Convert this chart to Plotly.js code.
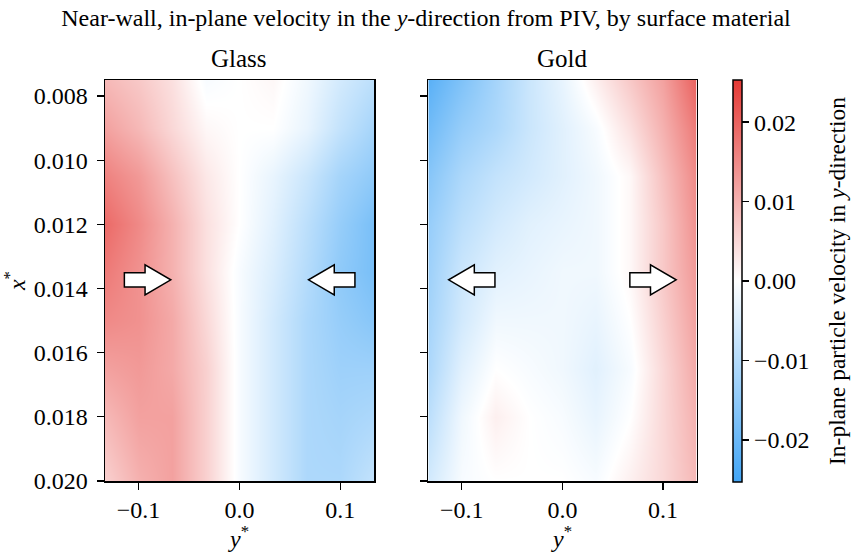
<!DOCTYPE html>
<html>
<head>
<meta charset="utf-8">
<script src="https://cdn.plot.ly/plotly-3.0.1.min.js"></script>
<style>html,body{margin:0;padding:0;background:#fff;}#chart{width:852px;height:552px;}</style>
</head>
<body>
<div id="chart"></div>
<script>
// ---- data ----
const yStar = [-0.133, -0.1, -0.067, -0.033, 0.0, 0.033, 0.067, 0.1, 0.133];
const xStar = [0.0075, 0.009, 0.0105, 0.012, 0.0135, 0.015, 0.0165, 0.018, 0.020];
const glassV = [
  [0.009, 0.007, 0.004, -0.001, 0.000, 0.001, -0.002, -0.006, -0.009],
  [0.012, 0.009, 0.005, 0.001, 0.000, 0.000, -0.003, -0.008, -0.012],
  [0.016, 0.013, 0.008, 0.003, 0.000, -0.003, -0.007, -0.012, -0.015],
  [0.019, 0.015, 0.010, 0.004, 0.000, -0.004, -0.009, -0.014, -0.018],
  [0.017, 0.014, 0.010, 0.004, -0.001, -0.005, -0.010, -0.015, -0.018],
  [0.015, 0.014, 0.011, 0.005, -0.001, -0.006, -0.011, -0.014, -0.016],
  [0.012, 0.013, 0.011, 0.006, -0.001, -0.006, -0.011, -0.013, -0.013],
  [0.009, 0.012, 0.012, 0.006, -0.001, -0.006, -0.011, -0.012, -0.011],
  [0.006, 0.010, 0.012, 0.006, -0.001, -0.006, -0.011, -0.011, -0.008]
];
const goldV = [
  [-0.022, -0.017, -0.012, -0.007, -0.003, 0.002, 0.007, 0.012, 0.020],
  [-0.019, -0.014, -0.011, -0.007, -0.004, -0.001, 0.004, 0.010, 0.017],
  [-0.016, -0.011, -0.008, -0.006, -0.004, -0.002, 0.001, 0.008, 0.015],
  [-0.014, -0.009, -0.006, -0.004, -0.003, -0.002, 0.001, 0.007, 0.014],
  [-0.013, -0.007, -0.004, -0.003, -0.002, -0.002, 0.001, 0.007, 0.013],
  [-0.012, -0.006, -0.002, -0.002, -0.002, -0.003, 0.000, 0.006, 0.012],
  [-0.011, -0.004, 0.000, -0.001, -0.002, -0.004, -0.001, 0.005, 0.011],
  [-0.009, -0.002, 0.002, 0.000, -0.001, -0.003, 0.000, 0.005, 0.010],
  [-0.006, -0.001, 0.000, 0.000, 0.000, -0.001, 0.002, 0.005, 0.009]
];
const panelTitles = ["Glass", "Gold"];
const colorbarTitle = "In-plane particle velocity in <i>y</i>-direction";
const xTicks = [-0.1, 0.0, 0.1];
const yTicks = [0.008, 0.010, 0.012, 0.014, 0.016, 0.018, 0.020];
const cbTicks = [-0.02, -0.01, 0.0, 0.01, 0.02];
// arrows: panel index, center y*, center x*, direction (+1 right, -1 left)
const arrowPanel = [0, 0, 1, 1];
const arrowCenterY = [-0.091, 0.0915, -0.090, 0.090];
const arrowCenterX = [0.01373, 0.01373, 0.01373, 0.01373];
const arrowDir = [1, -1, -1, 1];

// ---- styling ----
const FONT = "Liberation Serif, DejaVu Serif, serif";
const vmax = 0.0253;
const cscale = [[0, "#42a5f5"], [0.5, "#ffffff"], [1, "#e53935"]];
const xRange = [-0.1332, 0.1334];
const yRange = [0.020, 0.0075];
const TICK = 24;

const traces = [glassV, goldV].map((z, i) => ({
  type: "heatmap",
  x: yStar, y: xStar, z: z,
  xaxis: i === 0 ? "x" : "x2",
  yaxis: i === 0 ? "y" : "y2",
  colorscale: cscale, zmin: -vmax, zmax: vmax,
  zsmooth: "best",
  showscale: i === 1,
  hoverinfo: "skip",
  colorbar: i === 1 ? {
    x: 733.3 / 852, xanchor: "left", xref: "paper", xpad: 0, ypad: 0,
    y: 1 - 281 / 552, yanchor: "middle",
    len: 402, lenmode: "pixels",
    thickness: 8.5, thicknessmode: "pixels",
    outlinewidth: 1.5, outlinecolor: "#000",
    tickvals: cbTicks, tickformat: ".2f",
    ticks: "outside", ticklen: 7, tickwidth: 1.3, tickcolor: "#000",
    tickfont: {family: FONT, size: TICK, color: "#000"},
    title: {text: ""}
  } : undefined
}));

function axisX(dom) {
  return {
    domain: dom, range: xRange, tickvals: xTicks, tickformat: ".1f",
    ticks: "outside", ticklen: 7, tickwidth: 1.3, tickcolor: "#000",
    showline: true, mirror: true, linecolor: "#000", linewidth: 1.5,
    showgrid: false, zeroline: false,
    tickfont: {family: FONT, size: TICK, color: "#000"},
    title: {text: "<i>y</i><sup>*</sup>", font: {family: FONT, size: 24, color: "#000"}, standoff: 4}
  };
}
function axisY(showLabels) {
  return {
    domain: [1 - 481 / 552, 1 - 80 / 552], range: yRange,
    tickvals: yTicks, tickformat: ".3f", showticklabels: showLabels,
    ticks: "outside", ticklen: 7, tickwidth: 1.3, tickcolor: "#000",
    showline: true, mirror: true, linecolor: "#000", linewidth: 1.5,
    showgrid: false, zeroline: false,
    tickfont: {family: FONT, size: TICK, color: "#000"},
    ticklabelstandoff: 4,
    title: showLabels ? {text: "<i>x</i><sup>*</sup>", font: {family: FONT, size: 24, color: "#000"}, standoff: 2} : {text: ""}
  };
}

const xDom1 = [105 / 852, 374 / 852];
const xDom2 = [428.3 / 852, 696.7 / 852];

// arrow shapes built from arrow arrays
const L = 0.046, headLen = 0.0255, headHalf = 0.00047, shaftHalf = 0.00022;
const shapes = arrowPanel.map((p, k) => {
  const cx = arrowCenterY[k], cy = arrowCenterX[k], d = arrowDir[k];
  const tail = cx - d * L / 2, tip = cx + d * L / 2, hb = tip - d * headLen;
  const path = `M${tail},${cy - shaftHalf} L${hb},${cy - shaftHalf} L${hb},${cy - headHalf} L${tip},${cy} ` +
               `L${hb},${cy + headHalf} L${hb},${cy + shaftHalf} L${tail},${cy + shaftHalf} Z`;
  return {type: "path", path: path, xref: p === 0 ? "x" : "x2", yref: p === 0 ? "y" : "y2",
          fillcolor: "#ffffff", line: {color: "#000", width: 1.5}, layer: "above"};
});

const annotations = panelTitles.map((t, i) => ({
  text: t, xref: "paper", yref: "paper",
  x: i === 0 ? (xDom1[0] + xDom1[1]) / 2 : (xDom2[0] + xDom2[1]) / 2,
  y: 1 - 58 / 552, xanchor: "center", yanchor: "middle", showarrow: false,
  font: {family: FONT, size: 25, color: "#000"}
}));
annotations.push({
  text: colorbarTitle, xref: "paper", yref: "paper",
  x: 837 / 852, y: 1 - 281 / 552, xanchor: "center", yanchor: "middle",
  textangle: -90, showarrow: false, borderpad: 0,
  font: {family: FONT, size: 23.5, color: "#000"}
});

const layout = {
  width: 852, height: 552,
  margin: {l: 0, r: 0, t: 0, b: 0},
  paper_bgcolor: "#fff", plot_bgcolor: "#fff",
  title: {text: "Near-wall, in-plane velocity in the <i>y</i>-direction from PIV, by surface material",
          x: 0.5, xanchor: "center", y: 1 - 18 / 552, yanchor: "middle", yref: "paper",
          font: {family: FONT, size: 24, color: "#000"}},
  xaxis: axisX(xDom1), yaxis: axisY(true),
  xaxis2: Object.assign(axisX(xDom2), {anchor: "y2"}),
  yaxis2: Object.assign(axisY(false), {anchor: "x2"}),
  shapes: shapes, annotations: annotations,
  showlegend: false
};
layout.xaxis.anchor = "y";
layout.yaxis.anchor = "x";

Plotly.newPlot("chart", traces, layout, {displayModeBar: false, staticPlot: true});
</script>
</body>
</html>
